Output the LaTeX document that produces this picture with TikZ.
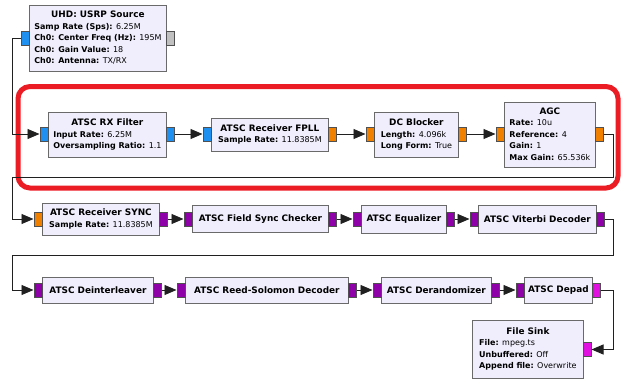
\documentclass[tikz,border=0pt]{standalone}
\usepackage{fontspec}
\setmainfont{DejaVu Sans}
\usetikzlibrary{arrows.meta}

\definecolor{boxfill}{HTML}{F0EEFC}
\definecolor{boxedge}{HTML}{6A6A6A}
\definecolor{portedge}{HTML}{505050}
\definecolor{pblue}{HTML}{2090F0}
\definecolor{pgray}{HTML}{C0C0C0}
\definecolor{porange}{HTML}{F08000}
\definecolor{ppurple}{HTML}{8E00A8}
\definecolor{pmagenta}{HTML}{E010E0}
\definecolor{hlred}{HTML}{EC1C24}
\definecolor{wirecol}{HTML}{202020}

% block title and parameter lines
\newcommand{\blktitle}[1]{\multicolumn{1}{@{}c@{}}{\fontsize{8.9}{11}\selectfont\bfseries #1}}
\newcommand{\blkparam}[2]{\textbf{#1:} #2}
\newcommand{\blkonly}[1]{{\fontsize{8.9}{11}\selectfont\bfseries #1}}

\tikzset{
  blk/.style={draw=boxedge, fill=boxfill, line width=0.8pt, inner sep=0pt,
              anchor=north west, font=\fontsize{8}{11.5}\selectfont},
  port/.style={draw=portedge, fill=#1, line width=0.5pt, inner sep=0pt,
               minimum width=8pt, minimum height=14pt},
  wire/.style={draw=wirecol, line width=0.9pt},
  flow/.style={wire, -{Triangle[length=12pt,width=10pt]}},
  hlbox/.style={draw=hlred, line width=5pt, rounded corners=12pt},
}

\begin{document}
\begin{tikzpicture}[x=1pt, y=-1pt]
\useasboundingbox (0,0) rectangle (621,381);

% routing columns and bus rows
\coordinate (lx) at (12,0);
\coordinate (rx) at (613,0);
\coordinate (bus1) at (0,177);
\coordinate (bus2) at (0,255);

% highlighted front-end section
\draw[hlbox] (18,86.5) rectangle (618,188);

% ---- source
\node[blk, minimum width=137pt, minimum height=66pt] (uhd) at (29,5)
  {\begin{tabular}{@{}l@{}}
   \blktitle{UHD: USRP Source}\\
   \blkparam{Samp Rate (Sps)}{6.25M}\\
   \blkparam{Ch0: Center Freq (Hz)}{195M}\\
   \blkparam{Ch0: Gain Value}{18}\\
   \blkparam{Ch0: Antenna}{TX/RX}
   \end{tabular}};
\node[port=pblue, anchor=east] (uhd-a) at (29,38) {};
\node[port=pgray, anchor=west] (uhd-b) at (166,38) {};

% ---- row 1
\node[blk, minimum width=118pt, minimum height=45pt] (rxf) at (48,112)
  {\begin{tabular}{@{}l@{}}
   \blktitle{ATSC RX Filter}\\
   \blkparam{Input Rate}{6.25M}\\
   \blkparam{Oversampling Ratio}{1.1}
   \end{tabular}};
\node[port=pblue, anchor=east] (rxf-in) at (48,134) {};
\node[port=pblue, anchor=west] (rxf-out) at (166,134) {};

\node[blk, minimum width=117pt, minimum height=33pt] (fpll) at (211,118)
  {\begin{tabular}{@{}l@{}}
   \blktitle{ATSC Receiver FPLL}\\
   \blkparam{Sample Rate}{11.8385M}
   \end{tabular}};
\node[port=pblue, anchor=east] (fpll-in) at (211,134) {};
\node[port=porange, anchor=west] (fpll-out) at (328,134) {};

\node[blk, minimum width=84pt, minimum height=45pt] (dcb) at (374,112)
  {\begin{tabular}{@{}l@{}}
   \blktitle{DC Blocker}\\
   \blkparam{Length}{4.096k}\\
   \blkparam{Long Form}{True}
   \end{tabular}};
\node[port=porange, anchor=east] (dcb-in) at (374,134) {};
\node[port=porange, anchor=west] (dcb-out) at (458,134) {};

\node[blk, minimum width=91pt, minimum height=65pt] (agc) at (504,102)
  {\begin{tabular}{@{}l@{}}
   \blktitle{AGC}\\
   \blkparam{Rate}{10u}\\
   \blkparam{Reference}{4}\\
   \blkparam{Gain}{1}\\
   \blkparam{Max Gain}{65.536k}
   \end{tabular}};
\node[port=porange, anchor=east] (agc-in) at (504,134) {};
\node[port=porange, anchor=west] (agc-out) at (595,134) {};

% ---- row 2
\node[blk, minimum width=117pt, minimum height=32pt] (sync) at (42,203)
  {\begin{tabular}{@{}l@{}}
   \blktitle{ATSC Receiver SYNC}\\
   \blkparam{Sample Rate}{11.8385M}
   \end{tabular}};
\node[port=porange, anchor=east] (sync-in) at (42,219) {};
\node[port=ppurple, anchor=west] (sync-out) at (159,219) {};

\node[blk, minimum width=136pt, minimum height=27pt] (fsc) at (192,205)
  {\blkonly{ATSC Field Sync Checker}};
\node[port=ppurple, anchor=east] (fsc-in) at (192,219) {};
\node[port=ppurple, anchor=west] (fsc-out) at (328,219) {};

\node[blk, minimum width=85pt, minimum height=28pt] (eq) at (361,205)
  {\blkonly{ATSC Equalizer}};
\node[port=ppurple, anchor=east] (eq-in) at (361,219) {};
\node[port=ppurple, anchor=west] (eq-out) at (446,219) {};

\node[blk, minimum width=118pt, minimum height=28pt] (vit) at (478,205)
  {\blkonly{ATSC Viterbi Decoder}};
\node[port=ppurple, anchor=east] (vit-in) at (478,219) {};
\node[port=ppurple, anchor=west] (vit-out) at (596,219) {};

% ---- row 3
\node[blk, minimum width=111pt, minimum height=26pt] (dei) at (42,277)
  {\blkonly{ATSC Deinterleaver}};
\node[port=ppurple, anchor=east] (dei-in) at (42,290) {};
\node[port=ppurple, anchor=west] (dei-out) at (153,290) {};

\node[blk, minimum width=163pt, minimum height=26pt] (rs) at (185,277)
  {\blkonly{ATSC Reed-Solomon Decoder}};
\node[port=ppurple, anchor=east] (rs-in) at (185,290) {};
\node[port=ppurple, anchor=west] (rs-out) at (348,290) {};

\node[blk, minimum width=110pt, minimum height=26pt] (der) at (381,277)
  {\blkonly{ATSC Derandomizer}};
\node[port=ppurple, anchor=east] (der-in) at (381,290) {};
\node[port=ppurple, anchor=west] (der-out) at (491,290) {};

\node[blk, minimum width=68pt, minimum height=26pt] (dep) at (524,277)
  {\blkonly{ATSC Depad}};
\node[port=ppurple, anchor=east] (dep-in) at (524,290) {};
\node[port=pmagenta, anchor=west] (dep-out) at (592,290) {};

% ---- sink
\node[blk, minimum width=111pt, minimum height=58pt] (fsink) at (472,320)
  {\begin{tabular}{@{}l@{}}
   \blktitle{File Sink}\\
   \blkparam{File}{mpeg.ts}\\
   \blkparam{Unbuffered}{Off}\\
   \blkparam{Append file}{Overwrite}
   \end{tabular}};
\node[port=pmagenta, anchor=west] (fsink-in) at (583,349.5) {};

% ---- connections
\draw[flow] (uhd-a.west) -- (uhd-a.west -| lx) |- (rxf-in.west);
\draw[flow] (rxf-out.east) -- (fpll-in.west);
\draw[flow] (fpll-out.east) -- (dcb-in.west);
\draw[flow] (dcb-out.east) -- (agc-in.west);
\draw[flow] (agc-out.east) -- (agc-out.east -| rx) -- (rx |- bus1)
  -- (lx |- bus1) |- (sync-in.west);
\draw[flow] (sync-out.east) -- (fsc-in.west);
\draw[flow] (fsc-out.east) -- (eq-in.west);
\draw[flow] (eq-out.east) -- (vit-in.west);
\draw[flow] (vit-out.east) -- (vit-out.east -| rx) -- (rx |- bus2)
  -- (lx |- bus2) |- (dei-in.west);
\draw[flow] (dei-out.east) -- (rs-in.west);
\draw[flow] (rs-out.east) -- (der-in.west);
\draw[flow] (der-out.east) -- (dep-in.west);
\draw[flow] (dep-out.east) -- (dep-out.east -| rx) |- (fsink-in.east);
\end{tikzpicture}
\end{document}
